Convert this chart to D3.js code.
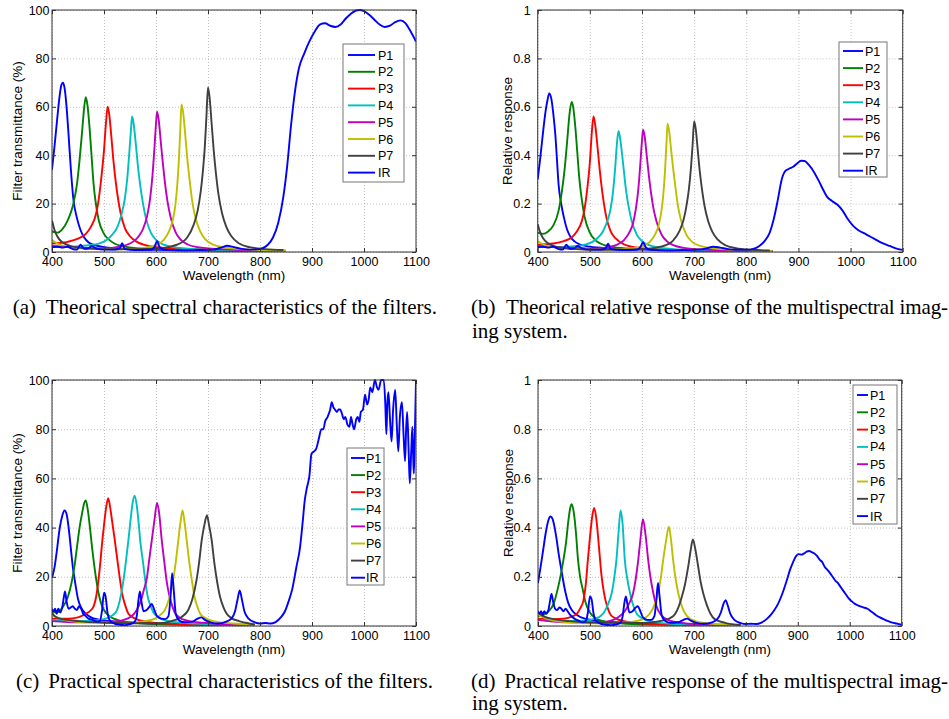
<!DOCTYPE html>
<html>
<head>
<meta charset="utf-8">
<script src="https://cdn.jsdelivr.net/npm/d3@7"></script>
<style>
  body { margin: 0; background: #fff; }
  svg { display: block; }
  .tick text { font-family: "Liberation Sans", Arial, sans-serif; font-size: 12.5px; fill: #000; }
  .grid line { stroke: #b3b3b3; stroke-dasharray: 1,2; stroke-width: 0.8; }
  .grid .domain, .ax .domain { display: none; }
  .ax line { stroke: #333; }
  .lbl { font-family: "Liberation Sans", Arial, sans-serif; font-size: 13.5px; fill: #000; }
  .leg { font-family: "Liberation Sans", Arial, sans-serif; font-size: 12.5px; fill: #000; }
  .cap { font-family: "Liberation Serif", "Times New Roman", serif; font-size: 21px; fill: #000; }
</style>
</head>
<body>
<svg id="fig" width="949" height="719"></svg>
<script>
// ========================
// Data
// ========================
const seriesNames = ["P1", "P2", "P3", "P4", "P5", "P6", "P7", "IR"];
const seriesColors = ["#0000ff", "#008000", "#ff0000", "#00bfbf", "#bf00bf", "#bfbf00", "#404040", "#0000ff"];

const xTicks = [400, 500, 600, 700, 800, 900, 1000, 1100];
const yTicksPct = [0, 20, 40, 60, 80, 100];
const yTicksRel = [0, 0.2, 0.4, 0.6, 0.8, 1];

// (a) theoretical filter transmittance (%) -- [wavelength, value]
const aP1 = [[400,34],[405,44],[410,55],[415,65],[418,69],[421,70],[424,68],[428,60],[432,48],[436,35],[441,22],[448,14],[455,9],[462,6],[470,4],[480,3],[500,2],[550,1.2],[600,0.9],[700,0.6],[850,0.3]];
const aP2 = [[400,8.5],[410,8],[420,9.5],[430,13],[440,19],[448,28],[453,38],[458,50],[462,60],[465,64],[468,61],[472,52],[476,40],[480,28],[485,19],[490,13],[500,7.5],[510,5],[520,3.5],[540,2.2],[570,1.5],[650,1],[750,0.6],[850,0.3]];
const aP3 = [[400,3.5],[430,4.2],[450,5.5],[465,7.5],[475,10.5],[485,16],[490,22],[495,31],[500,42],[504,54],[507,60],[510,57],[514,48],[518,38],[522,30],[527,22],[532,16],[540,10],[550,6.5],[565,4],[580,2.8],[620,1.6],[700,1],[850,0.4]];
const aP4 = [[400,2],[440,2.2],[470,2.8],[490,3.5],[505,5],[515,7],[525,10],[533,15],[540,22],[545,31],[549,42],[552,51],[554,56],[557,53],[561,45],[565,36],[570,27],[575,20],[580,14.5],[590,8],[600,5],[615,3],[640,1.8],[700,1],[850,0.4]];
const aP5 = [[400,2.5],[450,1.8],[500,1.5],[530,2.2],[550,3.5],[565,6],[575,9.5],[583,15],[588,21],[593,31],[597,43],[600,53],[602,58],[605,55],[609,46],[613,37],[617,29],[622,21],[628,14.5],[638,8],[648,5],[660,3.2],[680,2],[720,1.2],[850,0.5]];
const aP6 = [[400,5],[410,3.5],[430,2.2],[470,1.3],[530,1.1],[580,1.8],[600,2.8],[615,5],[625,8.5],[632,13],[637,19],[641,28],[644,38],[647,52],[649,61],[652,58],[656,49],[660,39],[664,31],[669,22],[675,15],[685,8.5],[695,5.2],[710,3],[740,1.6],[800,0.8],[850,0.5]];
const aP7 = [[400,13],[405,9],[410,6.5],[420,4],[435,2.5],[460,1.6],[520,1.1],[600,1.4],[640,3],[660,6],[672,11],[680,17],[686,25],[690,33],[694,44],[697,56],[700,68],[703,64],[707,53],[711,42],[715,33],[720,24],[727,16],[735,10.5],[745,6.5],[760,3.5],[780,2],[810,1.2],[845,0.8]];
const aIR = [[400,2],[410,2.2],[420,1.8],[430,2.2],[440,1.2],[448,1],[455,3],[462,1.3],[470,1.5],[476,2.5],[485,1.5],[500,1],[520,1],[530,1.5],[535,3.6],[540,1.2],[560,0.8],[590,0.9],[597,2],[602,4.5],[607,2],[615,1],[650,0.6],[680,0.8],[710,1],[725,1.8],[737,2.6],[750,2],[765,1.3],[780,1],[795,1.1],[805,1.6],[815,3],[825,6],[835,12],[845,23],[852,35],[860,53],[867,66],[875,76],[885,82],[895,87],[905,91],[915,94],[925,94.5],[935,93.5],[945,93],[955,94],[965,96.5],[975,98.5],[985,99.8],[992,100],[1000,99.5],[1010,98],[1020,96],[1030,94],[1040,93],[1050,93.5],[1060,95],[1070,95.7],[1080,94.5],[1090,91],[1100,87]];

// (b) theoretical relative response
const bP1 = [[400,0.3],[405,0.39],[410,0.49],[415,0.58],[419,0.63],[422,0.655],[426,0.635],[430,0.57],[434,0.48],[437,0.38],[440,0.28],[445,0.2],[450,0.145],[456,0.095],[463,0.062],[470,0.045],[480,0.032],[500,0.022],[540,0.015],[600,0.01],[700,0.006],[850,0.003]];
const bP2 = [[400,0.08],[410,0.075],[420,0.085],[430,0.11],[440,0.17],[447,0.26],[452,0.35],[457,0.47],[461,0.57],[465,0.62],[468,0.6],[472,0.52],[476,0.41],[480,0.3],[485,0.21],[490,0.145],[500,0.08],[510,0.05],[520,0.035],[540,0.022],[570,0.015],[650,0.01],[850,0.004]];
const bP3 = [[400,0.03],[430,0.035],[450,0.045],[465,0.06],[475,0.085],[485,0.13],[490,0.18],[495,0.26],[500,0.37],[504,0.5],[507,0.56],[510,0.53],[514,0.45],[518,0.36],[522,0.28],[527,0.2],[532,0.14],[540,0.085],[550,0.055],[565,0.032],[580,0.022],[620,0.012],[700,0.007],[850,0.003]];
const bP4 = [[400,0.02],[440,0.02],[470,0.024],[490,0.03],[505,0.042],[515,0.058],[525,0.085],[533,0.125],[540,0.18],[545,0.26],[549,0.36],[552,0.45],[555,0.5],[558,0.47],[562,0.4],[566,0.32],[570,0.245],[575,0.18],[580,0.13],[590,0.072],[600,0.045],[615,0.027],[640,0.016],[700,0.008],[850,0.003]];
const bP5 = [[400,0.025],[450,0.018],[500,0.014],[530,0.018],[550,0.028],[565,0.048],[575,0.078],[583,0.12],[588,0.175],[593,0.26],[597,0.37],[600,0.46],[602,0.505],[605,0.48],[609,0.4],[613,0.32],[617,0.25],[622,0.18],[628,0.125],[638,0.07],[648,0.044],[660,0.028],[680,0.017],[720,0.01],[850,0.004]];
const bP6 = [[400,0.045],[410,0.032],[430,0.02],[470,0.012],[530,0.01],[580,0.015],[600,0.023],[615,0.042],[625,0.072],[632,0.11],[637,0.165],[641,0.24],[644,0.33],[647,0.45],[649,0.53],[652,0.5],[656,0.42],[660,0.34],[664,0.27],[669,0.19],[675,0.13],[685,0.072],[695,0.044],[710,0.026],[740,0.014],[800,0.007],[850,0.004]];
const bP7 = [[400,0.115],[405,0.08],[410,0.058],[420,0.036],[435,0.022],[460,0.014],[520,0.009],[600,0.011],[640,0.024],[660,0.048],[672,0.087],[680,0.135],[686,0.2],[690,0.26],[694,0.35],[697,0.44],[700,0.54],[703,0.51],[707,0.42],[711,0.33],[715,0.26],[720,0.19],[727,0.127],[735,0.083],[745,0.052],[760,0.028],[780,0.016],[810,0.009],[845,0.006]];
const bIR = [[400,0.02],[410,0.022],[420,0.018],[430,0.022],[440,0.012],[448,0.01],[455,0.03],[462,0.013],[470,0.015],[476,0.025],[485,0.015],[500,0.01],[520,0.01],[530,0.015],[535,0.034],[540,0.012],[560,0.008],[590,0.009],[597,0.02],[602,0.04],[607,0.02],[615,0.01],[650,0.006],[680,0.008],[710,0.01],[725,0.016],[737,0.022],[750,0.018],[765,0.012],[780,0.009],[800,0.009],[815,0.014],[825,0.025],[835,0.045],[845,0.08],[852,0.13],[860,0.21],[868,0.3],[875,0.335],[883,0.345],[890,0.352],[897,0.365],[905,0.377],[912,0.376],[920,0.36],[930,0.33],[940,0.29],[948,0.255],[955,0.228],[965,0.21],[975,0.195],[985,0.17],[995,0.135],[1005,0.108],[1015,0.09],[1030,0.073],[1045,0.055],[1060,0.038],[1075,0.025],[1090,0.013],[1100,0.009]];

// (c) measured filter transmittance (%)
const cP1 = [[400,19.5],[405,24],[409,30],[415,40],[420,45],[424,47],[428,45.5],[432,40],[436,32],[440,24],[445,17],[450,11],[456,7.5],[465,5],[475,3.5],[490,2.6],[520,1.8],[570,1.2],[650,0.8],[790,0.3]];
const cP2 = [[400,6],[410,5.5],[420,7.5],[430,11.5],[438,18],[443,24],[448,32],[453,40],[458,46],[462,50],[465,51],[469,47],[473,40],[477,32],[481,25],[485,19],[489,14],[494,9.5],[500,6.5],[510,4],[525,2.5],[550,1.5],[600,0.8],[700,0.4],[790,0.2]];
const cP3 = [[400,3],[430,3],[450,3.5],[465,5],[475,6.5],[480,8],[485,12],[489,18],[493,26],[496,33],[500,41],[504,48],[508,52],[512,48],[516,42],[520,36],[525,28],[530,20],[535,13],[540,9],[547,5],[560,3],[580,1.8],[620,1],[700,0.5],[790,0.2]];
const cP4 = [[400,2.5],[450,2],[490,2.5],[510,3.5],[520,5],[525,6.5],[530,10],[537,18],[542,26],[547,35],[551,43],[555,50],[559,53],[563,49],[567,41],[570,34],[575,26],[579,19],[584,12],[590,8],[595,5.5],[605,3.5],[620,2.2],[650,1.3],[700,0.8],[790,0.3]];
const cP5 = [[400,2],[450,1.5],[520,1.8],[545,3],[563,6.5],[572,11],[577,15],[582,19],[587,27],[592,35],[597,43],[602,50],[606,46],[611,35],[616,26],[620,19],[625,13],[630,9],[636,5.5],[645,3.5],[660,2.2],[690,1.3],[740,0.7],[790,0.4]];
const cP6 = [[400,4.5],[410,3.5],[430,2.2],[470,1.4],[530,1.2],[580,2],[600,3.2],[610,4.8],[617,6.5],[625,11],[633,18.7],[638,26],[643,35],[647,42],[651,47],[655,42],[659,35],[664,26],[669,18.5],[674,12],[680,7.5],[685,5],[695,3.2],[710,2],[750,1],[790,0.5]];
const cP7 = [[400,5.5],[405,4],[415,3],[430,2.5],[460,1.8],[520,1.2],[600,1],[630,2],[650,3.8],[662,6.5],[670,11],[678,18.7],[683,26],[688,35],[693,41],[698,45],[702,41],[707,35],[712,26],[717,18.7],[723,12],[730,7.5],[736,5],[745,3.2],[760,2],[775,1.2],[790,0.6]];
const cIR = [[400,7],[403,6],[406,7],[409,5],[412,7],[416,5.5],[420,8],[423,12],[425,14],[428,10],[432,7],[436,7.5],[440,8],[444,7],[448,6.5],[452,8],[456,7],[460,5],[465,4],[470,3],[478,2.5],[485,1.8],[492,2],[496,6],[500,13.5],[503,12],[507,5],[512,2],[520,1],[530,0.5],[540,0.3],[550,0.8],[558,1.5],[563,4],[566,10],[569,14],[572,10],[576,6],[582,6.5],[588,8],[592,9],[596,7],[602,4],[610,3],[618,2.8],[624,4],[628,12],[631,21.5],[634,15],[638,5],[645,2.2],[655,1.5],[670,1.8],[680,3],[687,3.5],[694,2.5],[705,1.5],[720,1],[735,1.8],[745,3],[752,6],[757,11],[761,14.5],[765,11],[770,6],[778,3],[790,1.5],[800,1],[810,1.2],[820,1],[830,1.6],[840,3.5],[848,6],[855,10],[862,15],[870,24],[877,32],[882,42],[886,51],[890,56],[895,61],[899,70],[904,71],[908,72],[913,76],[918,80],[922,80],[925,83],[930,85],[935,88],[938,91],[941,89],[944,88],[948,87],[951,88],[954,88],[958,86],[961,84],[964,85],[968,82],[972,81],[975,85],[978,82],[981,80],[985,84],[988,85],[991,83],[994,87],[998,88],[1002,94],[1006,90],[1009,92],[1012,97],[1016,95],[1021,100],[1025,97],[1028,96],[1033,100],[1038,100],[1041,90],[1043,78],[1045,91],[1047,95],[1050,84],[1053,75],[1056,88],[1060,96],[1063,82],[1066,71],[1069,85],[1073,91],[1076,78],[1079,67],[1081,80],[1083,87],[1086,70],[1088,58],[1091,72],[1093,81],[1095,66],[1096,62],[1098,80],[1100,100]];

// (d) measured relative response
const dP1 = [[400,0.175],[405,0.24],[410,0.31],[415,0.38],[420,0.43],[424,0.445],[428,0.435],[432,0.4],[436,0.35],[440,0.29],[444,0.24],[448,0.19],[453,0.135],[458,0.095],[465,0.065],[475,0.045],[490,0.03],[520,0.02],[570,0.013],[650,0.008],[790,0.003]];
const dP2 = [[400,0.04],[410,0.045],[420,0.06],[430,0.09],[439,0.16],[444,0.21],[449,0.27],[454,0.34],[458,0.42],[462,0.48],[465,0.495],[469,0.46],[473,0.38],[477,0.27],[481,0.2],[486,0.15],[491,0.1],[500,0.055],[510,0.033],[525,0.02],[550,0.012],[600,0.007],[700,0.004],[790,0.002]];
const dP3 = [[400,0.03],[430,0.028],[450,0.03],[465,0.038],[475,0.05],[482,0.075],[487,0.1],[492,0.17],[496,0.27],[500,0.36],[504,0.44],[508,0.48],[512,0.44],[517,0.33],[522,0.21],[527,0.135],[533,0.08],[540,0.045],[550,0.03],[570,0.018],[600,0.01],[700,0.005],[790,0.002]];
const dP4 = [[400,0.025],[450,0.02],[490,0.022],[510,0.03],[520,0.04],[527,0.055],[535,0.09],[542,0.135],[547,0.2],[551,0.27],[555,0.38],[559,0.47],[563,0.41],[567,0.27],[572,0.19],[577,0.135],[583,0.085],[590,0.05],[600,0.032],[620,0.018],[650,0.01],[700,0.006],[790,0.002]];
const dP5 = [[400,0.025],[450,0.015],[520,0.015],[545,0.025],[560,0.045],[567,0.06],[575,0.09],[583,0.133],[588,0.19],[593,0.27],[597,0.35],[602,0.434],[607,0.37],[612,0.27],[617,0.19],[622,0.133],[628,0.08],[638,0.042],[650,0.025],[670,0.014],[700,0.008],[790,0.003]];
const dP6 = [[400,0.045],[410,0.035],[430,0.022],[470,0.013],[530,0.01],[580,0.017],[600,0.026],[615,0.05],[624,0.085],[631,0.133],[636,0.19],[641,0.27],[646,0.34],[652,0.404],[656,0.35],[660,0.27],[665,0.19],[670,0.133],[676,0.085],[686,0.042],[700,0.022],[730,0.01],[790,0.004]];
const dP7 = [[400,0.055],[410,0.04],[430,0.028],[460,0.02],[520,0.013],[600,0.012],[640,0.022],[660,0.04],[670,0.075],[677,0.12],[683,0.17],[689,0.24],[694,0.31],[698,0.352],[703,0.31],[708,0.245],[713,0.18],[718,0.133],[725,0.085],[732,0.05],[740,0.028],[760,0.013],[790,0.004]];
const dIR = [[400,0.06],[403,0.05],[406,0.06],[409,0.045],[412,0.06],[416,0.05],[420,0.065],[423,0.1],[426,0.13],[429,0.1],[433,0.07],[437,0.065],[441,0.075],[445,0.07],[449,0.06],[453,0.07],[457,0.06],[462,0.045],[470,0.03],[478,0.022],[486,0.015],[492,0.02],[496,0.055],[500,0.12],[503,0.11],[507,0.05],[512,0.02],[520,0.01],[530,0.005],[540,0.003],[550,0.006],[558,0.012],[563,0.04],[566,0.09],[569,0.12],[572,0.09],[576,0.055],[582,0.06],[588,0.075],[592,0.08],[596,0.065],[602,0.035],[610,0.025],[618,0.025],[624,0.04],[628,0.11],[631,0.175],[634,0.12],[638,0.045],[645,0.02],[655,0.013],[670,0.015],[680,0.025],[687,0.03],[694,0.022],[705,0.013],[720,0.009],[735,0.015],[745,0.028],[752,0.055],[757,0.09],[761,0.105],[765,0.085],[770,0.05],[778,0.025],[790,0.012],[800,0.008],[810,0.009],[820,0.008],[830,0.014],[840,0.028],[848,0.045],[855,0.065],[862,0.09],[870,0.13],[878,0.18],[885,0.228],[891,0.26],[897,0.285],[902,0.292],[907,0.29],[912,0.295],[917,0.302],[922,0.305],[927,0.3],[932,0.295],[937,0.285],[942,0.27],[947,0.26],[952,0.24],[957,0.228],[962,0.215],[967,0.2],[972,0.185],[977,0.175],[982,0.16],[987,0.145],[992,0.13],[998,0.112],[1004,0.1],[1010,0.09],[1018,0.082],[1026,0.076],[1034,0.07],[1042,0.058],[1050,0.045],[1058,0.035],[1066,0.027],[1074,0.02],[1082,0.014],[1090,0.01],[1100,0.005]];

const xLabel = "Wavelength (nm)";
const yLabelPct = "Filter transmittance (%)";
const yLabelRel = "Relative response";

// ========================
// Layout of the four panels
// ========================
const panels = [
  { id: "a", series: [aP1, aP2, aP3, aP4, aP5, aP6, aP7, aIR], ymax: 100, yTicks: yTicksPct, yLabel: yLabelPct,
    left: 52, right: 416, top: 10, bottom: 252, tickPad: 2.5, yLabelX: 17,
    leg: { x0: 343, x1: 404, y0: 44, y1: 182, first: 55, step: 16.8, l0: 348, l1: 375, tx: 378 } },
  { id: "b", series: [bP1, bP2, bP3, bP4, bP5, bP6, bP7, bIR], ymax: 1, yTicks: yTicksRel, yLabel: yLabelRel,
    left: 537.7, right: 902.7, top: 10, bottom: 252, tickPad: 7, yLabelX: 507,
    leg: { x0: 839, x1: 887, y0: 42, y1: 177, first: 51, step: 17.1, l0: 843, l1: 863, tx: 865 } },
  { id: "c", series: [cP1, cP2, cP3, cP4, cP5, cP6, cP7, cIR], ymax: 100, yTicks: yTicksPct, yLabel: yLabelPct,
    left: 52, right: 416, top: 380, bottom: 626, tickPad: 2.5, yLabelX: 17,
    leg: { x0: 347, x1: 384, y0: 448, y1: 585, first: 458, step: 17.1, l0: 351, l1: 365, tx: 366 } },
  { id: "d", series: [dP1, dP2, dP3, dP4, dP5, dP6, dP7, dIR], ymax: 1, yTicks: yTicksRel, yLabel: yLabelRel,
    left: 538, right: 901.7, top: 380, bottom: 626, tickPad: 7, yLabelX: 508,
    leg: { x0: 853, x1: 897, y0: 385, y1: 524, first: 395, step: 17.3, l0: 857, l1: 868, tx: 870 } }
];

const svg = d3.select("#fig");

function drawPanel(p) {
  const x = d3.scaleLinear().domain([400, 1100]).range([p.left, p.right]);
  const y = d3.scaleLinear().domain([0, p.ymax]).range([p.bottom, p.top]);
  const w = p.right - p.left, h = p.bottom - p.top;
  const g = svg.append("g");

  // dotted grid
  g.append("g").attr("class", "grid")
    .attr("transform", `translate(0,${p.bottom})`)
    .call(d3.axisBottom(x).tickValues(xTicks).tickSize(-h).tickFormat(""));
  g.append("g").attr("class", "grid")
    .attr("transform", `translate(${p.left},0)`)
    .call(d3.axisLeft(y).tickValues(p.yTicks).tickSize(-w).tickFormat(""));

  // curves, clipped to the axes box
  g.append("clipPath").attr("id", "clip-" + p.id)
    .append("rect").attr("x", p.left).attr("y", p.top - 1).attr("width", w).attr("height", h + 1);

  const line = d3.line()
    .x(d => x(d[0]))
    .y(d => y(d[1]))
    .curve(d3.curveMonotoneX);

  g.append("g").attr("clip-path", `url(#clip-${p.id})`)
    .selectAll("path")
    .data(p.series)
    .join("path")
    .attr("d", line)
    .attr("fill", "none")
    .attr("stroke", (d, i) => seriesColors[i])
    .attr("stroke-width", 1.9)
    .attr("stroke-linejoin", "round");

  // axes with inward ticks on every side
  g.append("g").attr("class", "ax")
    .attr("transform", `translate(0,${p.bottom})`)
    .call(d3.axisBottom(x).tickValues(xTicks).tickSize(-4).tickPadding(5.5).tickFormat(d => d));
  g.append("g").attr("class", "ax")
    .attr("transform", `translate(0,${p.top})`)
    .call(d3.axisTop(x).tickValues(xTicks).tickSize(-4).tickFormat(""));
  g.append("g").attr("class", "ax")
    .attr("transform", `translate(${p.left},0)`)
    .call(d3.axisLeft(y).tickValues(p.yTicks).tickSize(-4).tickPadding(p.tickPad).tickFormat(d => d));
  g.append("g").attr("class", "ax")
    .attr("transform", `translate(${p.right},0)`)
    .call(d3.axisRight(y).tickValues(p.yTicks).tickSize(-4).tickFormat(""));

  g.append("rect")
    .attr("x", p.left).attr("y", p.top).attr("width", w).attr("height", h)
    .attr("fill", "none").attr("stroke", "#333").attr("stroke-width", 1);

  // axis labels
  g.append("text").attr("class", "lbl")
    .attr("x", (p.left + p.right) / 2).attr("y", p.bottom + 28)
    .attr("text-anchor", "middle")
    .text(xLabel);
  g.append("text").attr("class", "lbl")
    .attr("transform", `translate(${p.yLabelX},${(p.top + p.bottom) / 2}) rotate(-90)`)
    .attr("dy", "0.35em")
    .attr("text-anchor", "middle")
    .text(p.yLabel);

  // legend
  const L = p.leg;
  const lg = g.append("g");
  lg.append("rect")
    .attr("x", L.x0).attr("y", L.y0).attr("width", L.x1 - L.x0).attr("height", L.y1 - L.y0)
    .attr("fill", "#fff").attr("stroke", "#777").attr("stroke-width", 1);
  lg.selectAll("line")
    .data(seriesNames)
    .join("line")
    .attr("x1", L.l0).attr("x2", L.l1)
    .attr("y1", (d, i) => L.first + i * L.step)
    .attr("y2", (d, i) => L.first + i * L.step)
    .attr("stroke", (d, i) => seriesColors[i])
    .attr("stroke-width", 1.9);
  lg.selectAll("text")
    .data(seriesNames)
    .join("text")
    .attr("class", "leg")
    .attr("x", L.tx)
    .attr("y", (d, i) => L.first + i * L.step)
    .attr("dy", "0.36em")
    .text(d => d);
}

panels.forEach(drawPanel);

// =========
// Captions
// =========
const captions = [
  { tag: "(a)", tx: 12.7, x: 45.7, x2: 437, y: 314, text: "Theorical spectral characteristics of the filters." },
  { tag: "(b)", tx: 471, x: 506, x2: 948, y: 314, text: "Theorical relative response of the multispectral imag-", more: "ing system.", y2: 338 },
  { tag: "(c)", tx: 16, x: 48.3, x2: 433, y: 688, text: "Practical spectral characteristics of the filters." },
  { tag: "(d)", tx: 471, x: 504.3, x2: 948, y: 688, text: "Practical relative response of the multispectral imag-", more: "ing system.", y2: 710 }
];

captions.forEach(c => {
  svg.append("text").attr("class", "cap").attr("x", c.tx).attr("y", c.y).text(c.tag);
  svg.append("text").attr("class", "cap").attr("x", c.x).attr("y", c.y)
    .attr("textLength", c.x2 - c.x).attr("lengthAdjust", "spacing")
    .text(c.text);
  if (c.more) {
    svg.append("text").attr("class", "cap").attr("x", 472).attr("y", c.y2).text(c.more);
  }
});
</script>
</body>
</html>
